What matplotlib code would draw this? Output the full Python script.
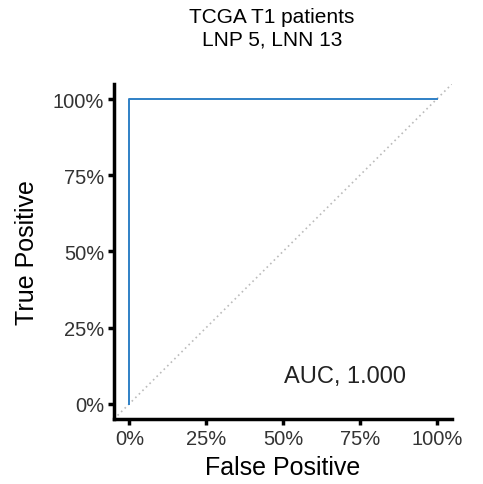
import numpy as np
import matplotlib.pyplot as plt

plt.rcParams['font.family'] = ['Liberation Sans', 'DejaVu Sans']

fpr = [0.0, 0.0, 1.0]
tpr = [0.0, 1.0, 1.0]
ticks = [0, 0.25, 0.5, 0.75, 1.0]
tick_labels = ['0%', '25%', '50%', '75%', '100%']
auc = 1.000

fig = plt.figure(figsize=(4.83, 4.85), dpi=100)
ax = fig.add_axes([0.236, 0.134, 0.700, 0.691])

ax.axline((0, 0), (1, 1), color='#bbbbbb', linestyle=(0, (1, 2)), linewidth=1.2)
ax.plot(fpr, tpr, color='#2f80c6', linewidth=1.4)
ax.text(0.70, 0.09, 'AUC, %.3f' % auc, ha='center', va='center', fontsize=17, color='#222222')

ax.set_xlim(-0.05, 1.05)
ax.set_ylim(-0.05, 1.05)
ax.set_xticks(ticks)
ax.set_xticklabels(tick_labels)
ax.set_yticks(ticks)
ax.set_yticklabels(tick_labels)
ax.tick_params(labelsize=14.5, width=2.5, length=4, pad=3, colors='black', labelcolor='#333333')
for s in ['top', 'right']:
    ax.spines[s].set_visible(False)
for s in ['left', 'bottom']:
    ax.spines[s].set_linewidth(2.5)

ax.set_xlabel('False Positive', fontsize=18, labelpad=5)
ax.set_ylabel('True Positive', fontsize=18, labelpad=10)
fig.text(272 / 483, 1 - 8 / 485, 'TCGA T1 patients\nLNP 5, LNN 13', ha='center', va='top',
         fontsize=15, linespacing=1.2)

fig.savefig('out.png', dpi=100)
